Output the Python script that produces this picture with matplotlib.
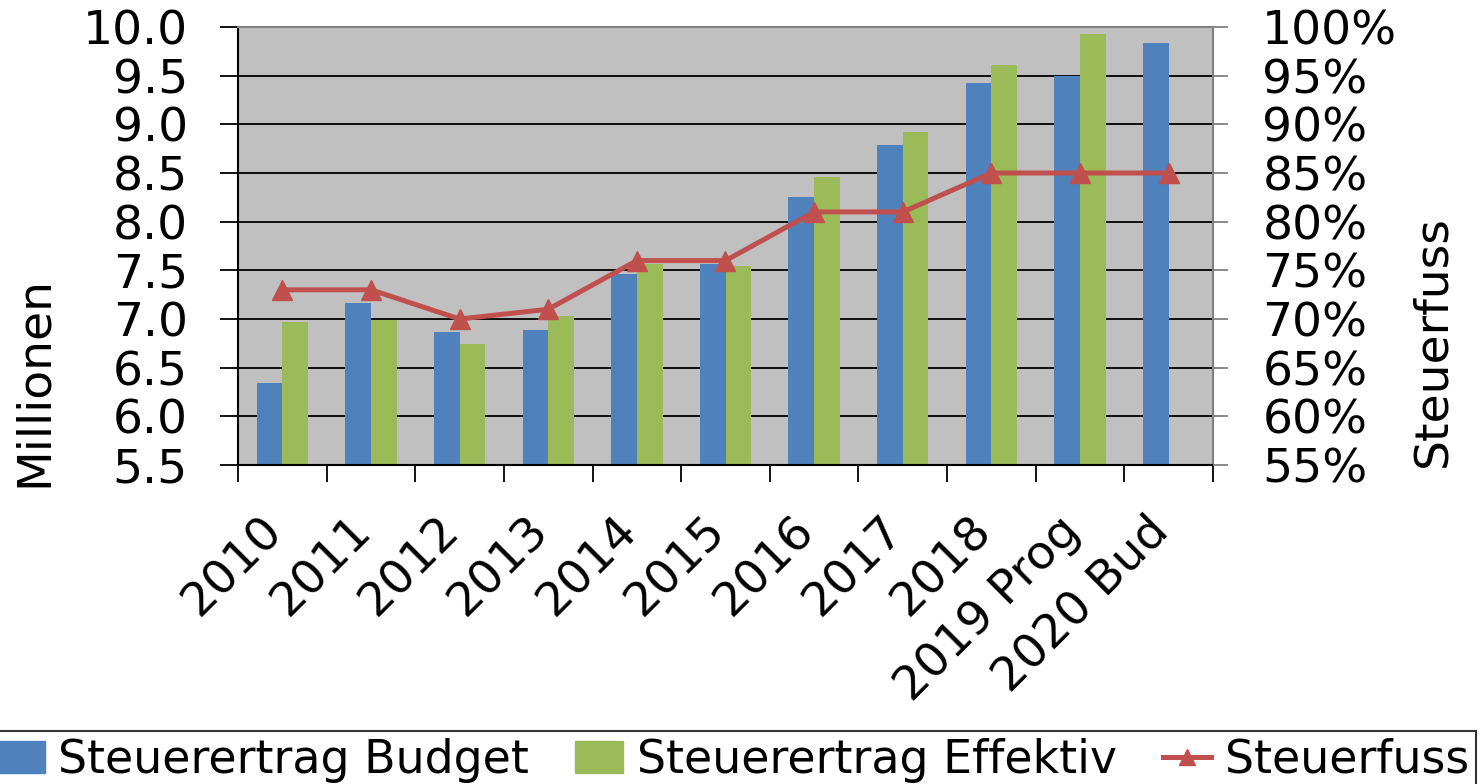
import numpy as np
from matplotlib import pyplot as plt
from matplotlib.lines import Line2D
from matplotlib.patches import Patch
from matplotlib.transforms import ScaledTranslation

years = ["2010", "2011", "2012", "2013", "2014", "2015", "2016", "2017", "2018", "2019 Prog", "2020 Bud"]
budget = [6.34, 7.16, 6.87, 6.89, 7.46, 7.57, 8.25, 8.79, 9.42, 9.50, 9.84]
effektiv = [6.97, 6.99, 6.74, 7.03, 7.56, 7.54, 8.46, 8.92, 9.61, 9.93, np.nan]
steuerfuss = [73, 73, 70, 71, 76, 76, 81, 81, 85, 85, 85]

BLUE = "#4F81BD"
GREEN = "#9BBB59"
RED = "#C0504D"
FS = 34

# 1482 x 784 output
fig = plt.figure(figsize=(14.82, 7.84), dpi=100)
ax = fig.add_axes([238 / 1482, 1 - 465 / 784, 975 / 1482, 438 / 784])
ax.set_facecolor("#C0C0C0")

x = np.arange(len(years))
w = 0.29
ax.bar(x - w / 2, budget, w, color=BLUE, zorder=2)
ax.bar(x + w / 2, effektiv, w, color=GREEN, zorder=2)

ax.set_xlim(-0.5, len(years) - 0.5)
ax.set_ylim(5.5, 10.0)
ax.set_yticks(np.arange(5.5, 10.01, 0.5))
ax.set_yticklabels([f"{v:.1f}" for v in np.arange(5.5, 10.01, 0.5)])
for v in np.arange(6.0, 9.51, 0.5):
    ax.axhline(v, color="black", lw=1.3, zorder=1)

ax.set_xticks(x)
ax.set_xticklabels(years, rotation=45, ha="right")
ax.set_xticks(np.arange(-0.5, len(years), 1.0), minor=True)
ax.tick_params(axis="x", which="major", length=0, pad=31, labelsize=FS)
ax.tick_params(axis="x", which="minor", length=12, width=1.3, color="black")
ax.tick_params(axis="y", length=13, width=1.3, pad=23, labelsize=FS)
for lab in ax.get_xticklabels():
    lab.set_transform(lab.get_transform() + ScaledTranslation(9 / 100, 0, fig.dpi_scale_trans))

for s in ["left", "bottom"]:
    ax.spines[s].set_color("black")
    ax.spines[s].set_linewidth(1.5)
for s in ["top", "right"]:
    ax.spines[s].set_color("#808080")
    ax.spines[s].set_linewidth(1.5)

ax2 = ax.twinx()
ax2.plot(x, steuerfuss, color=RED, lw=3.6, marker="^", markersize=14, zorder=3)
ax2.set_ylim(55, 100)
ax2.set_yticks(np.arange(55, 101, 5))
ax2.set_yticklabels([f"{v}%" for v in range(55, 101, 5)])
ax2.tick_params(axis="y", length=11, width=1.3, color="#808080", pad=24.5, labelsize=FS)
for s in ax2.spines.values():
    s.set_visible(False)

fig.text(34 / 1482, 1 - 381 / 784, "Millionen", rotation=90, ha="center", va="center", fontsize=FS)
fig.text(1433 / 1482, 1 - 341 / 784, "Steuerfuss", rotation=90, ha="center", va="center", fontsize=FS)

handles = [
    Patch(color=BLUE),
    Patch(color=GREEN),
    Line2D([], [], color=RED, lw=3.6, marker="^", markersize=12),
]
leg = fig.legend(handles, ["Steuerertrag Budget", "Steuerertrag Effektiv", "Steuerfuss"],
                 loc="upper left", bbox_to_anchor=(-0.007, 1 - 731 / 784), bbox_transform=fig.transFigure,
                 ncol=3, fontsize=FS - 1, frameon=True, fancybox=False, borderaxespad=0,
                 borderpad=0.15, handlelength=1.05, handletextpad=0.3, columnspacing=1.0)
leg.get_frame().set_edgecolor("black")
leg.get_frame().set_linewidth(1.5)

fig.savefig("out.png", dpi=100)
